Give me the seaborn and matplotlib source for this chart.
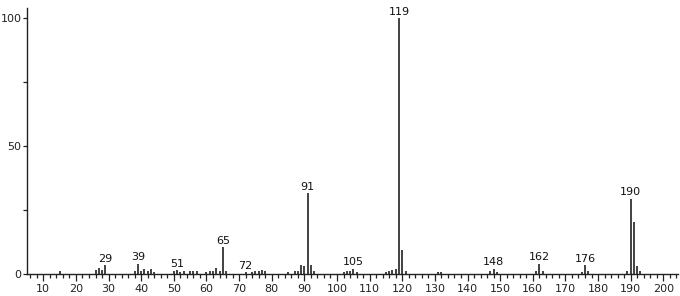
import matplotlib
matplotlib.use("Agg")
import matplotlib.pyplot as plt
import seaborn as sns
import numpy as np
import pandas as pd
from matplotlib.ticker import MultipleLocator

mz = [15, 26, 27, 28, 29, 38, 39, 40, 41, 42, 43, 44, 50, 51, 52, 53, 55, 56, 57,
      60, 61, 62, 63, 64, 65, 66, 72, 74, 75, 76, 77, 78, 85, 87, 88, 89, 90, 91,
      92, 93, 102, 103, 104, 105, 106, 115, 116, 117, 118, 119, 120, 121, 131, 132,
      147, 148, 149, 161, 162, 163, 175, 176, 177, 189, 190, 191, 192, 193]
intensity = [1.0, 1.5, 2.5, 1.5, 3.5, 1.0, 4.0, 1.0, 2.0, 1.0, 2.0, 0.8, 1.0, 1.5, 0.8,
             1.0, 1.0, 1.0, 1.3, 0.8, 1.0, 1.2, 2.5, 1.0, 10.5, 1.0, 0.8, 0.8, 1.0, 1.0,
             1.5, 1.0, 0.8, 1.0, 1.0, 3.5, 3.0, 31.5, 3.5, 1.0, 0.8, 1.0, 1.2, 2.0, 0.8,
             0.8, 1.0, 1.5, 2.0, 100.0, 9.5, 1.0, 0.8, 0.8, 1.0, 2.0, 0.8, 1.0, 4.0, 1.0,
             0.8, 3.5, 1.0, 1.0, 29.5, 20.5, 3.0, 1.0]
labeled = [29, 39, 51, 65, 72, 91, 105, 119, 148, 162, 176, 190]

df = pd.DataFrame({"mz": mz, "intensity": intensity})

sns.set_style("ticks")
plt.rcParams['font.family'] = ['DejaVu Sans']

fig = plt.figure(figsize=(6.8, 2.96), dpi=100)
ax = fig.add_axes([27/680, 22/296, 651/680, 266/296])

ax.vlines(df["mz"], 0, df["intensity"], colors="#333333", linewidth=1.3)
for m in labeled:
    v = df.loc[df["mz"] == m, "intensity"].iloc[0]
    ax.annotate(str(m), (m, v), xytext=(0, 1), textcoords="offset points",
                ha="center", va="bottom", fontsize=8, color="#111111")

ax.set_xlim(5, 204.5)
ax.set_ylim(0, 104)
ax.set_xticks(np.arange(10, 201, 10))
ax.xaxis.set_minor_locator(MultipleLocator(2))
ax.set_yticks([0, 50, 100])
ax.yaxis.set_minor_locator(MultipleLocator(25))
ax.tick_params(axis="x", which="major", length=5, width=0.9, labelsize=8, colors="#222222", pad=2)
ax.tick_params(axis="y", which="major", length=3, width=0.9, labelsize=8, colors="#222222", pad=1)
ax.tick_params(axis="both", which="minor", length=3, width=0.9, colors="#222222")
for s in ["top", "right"]:
    ax.spines[s].set_visible(False)
for s in ["left", "bottom"]:
    ax.spines[s].set_linewidth(1.0)
    ax.spines[s].set_color("#222222")
ax.set_xlabel("")
ax.set_ylabel("")

fig.savefig("out.png", dpi=100)
